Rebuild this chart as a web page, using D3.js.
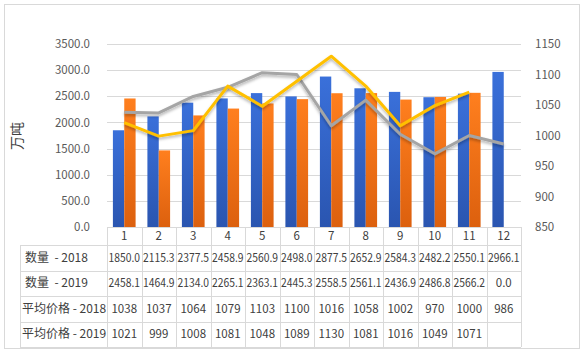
<!DOCTYPE html>
<html>
<head>
<meta charset="utf-8">
<script src="https://cdn.jsdelivr.net/npm/d3@7"></script>
<style>
  body { margin: 0; background: #fff; }
  svg text { font-family: "Noto Sans CJK SC", "Noto Sans", sans-serif; }
</style>
</head>
<body>
<div id="chart"></div>
<script>
// data
var months = ["1","2","3","4","5","6","7","8","9","10","11","12"];
var qty2018 = [1850.0,2115.3,2377.5,2458.9,2560.9,2498.0,2877.5,2652.9,2584.3,2482.2,2550.1,2966.1];
var qty2019 = [2458.1,1464.9,2134.0,2265.1,2363.1,2445.3,2558.5,2561.1,2436.9,2486.8,2566.2,0.0];
var price2018 = [1038,1037,1064,1079,1103,1100,1016,1058,1002,970,1000,986];
var price2019 = [1021,999,1008,1081,1048,1089,1130,1081,1016,1049,1071,null];
var leftTicks = [0,500,1000,1500,2000,2500,3000,3500];
var rightTicks = [850,900,950,1000,1050,1100,1150];

var W = 588, H = 353;
var plot = {left: 107, right: 521, top: 44, bottom: 227};
var tableLeft = 20, rowH = 25.5, headerBottom = 245;

var svg = d3.select("#chart").append("svg")
    .attr("width", W).attr("height", H);

var defs = svg.append("defs");
function grad(id, top, bottom) {
  var g = defs.append("linearGradient").attr("id", id)
      .attr("x1", 0).attr("y1", 0).attr("x2", 0).attr("y2", 1);
  g.append("stop").attr("offset", "0%").attr("stop-color", top);
  g.append("stop").attr("offset", "100%").attr("stop-color", bottom);
}
grad("gBlue", "#3a70da", "#2a55b0");
grad("gOrange", "#ff7f1e", "#dc600e");
var f = defs.append("filter").attr("id", "shadow")
    .attr("x", "-5%").attr("y", "-20%").attr("width", "110%").attr("height", "140%");
f.append("feDropShadow").attr("dx", 0).attr("dy", 2).attr("stdDeviation", 1.4)
    .attr("flood-color", "#000").attr("flood-opacity", 0.3);

// outer frame
svg.append("rect").attr("x", 4.5).attr("y", 4.5).attr("width", 575).attr("height", 344)
    .attr("fill", "none").attr("stroke", "#d9d9d9");

var x = d3.scaleBand().domain(months).range([plot.left, plot.right]).padding(0);
var xs = d3.scaleBand().domain(["2018","2019"]).range([0, x.bandwidth()])
    .paddingInner(0).paddingOuter(0.52);
var y = d3.scaleLinear().domain([0, 3500]).range([plot.bottom, plot.top]);
var y2 = d3.scaleLinear().domain([850, 1150]).range([plot.bottom, plot.top]);

// gridlines
svg.append("g").selectAll("line").data(leftTicks.slice(1)).enter().append("line")
    .attr("x1", plot.left).attr("x2", plot.right)
    .attr("y1", function(d) { return Math.round(y(d)) + 0.5; })
    .attr("y2", function(d) { return Math.round(y(d)) + 0.5; })
    .attr("stroke", "#d9d9d9");

// left axis
var yAxis = svg.append("g").attr("transform", "translate(" + (plot.left - 14) + ",0)")
    .call(d3.axisLeft(y).tickValues(leftTicks).tickFormat(d3.format(".1f")).tickSize(0));
yAxis.select(".domain").remove();
yAxis.selectAll("text").attr("fill", "#595959").attr("font-size", "11.5px");

// right axis
var y2Axis = svg.append("g").attr("transform", "translate(" + (plot.right + 11) + ",0)")
    .call(d3.axisRight(y2).tickValues(rightTicks).tickFormat(d3.format("d")).tickSize(0));
y2Axis.select(".domain").remove();
y2Axis.selectAll("text").attr("fill", "#595959").attr("font-size", "11.5px");

svg.append("text").attr("transform", "translate(22,136) rotate(-90)")
    .attr("text-anchor", "middle").attr("fill", "#404040").attr("font-size", "14px")
    .text("万吨");

// bars
var series = [{key: "2018", vals: qty2018, fill: "url(#gBlue)"},
              {key: "2019", vals: qty2019, fill: "url(#gOrange)"}];
series.forEach(function(s) {
  svg.append("g").selectAll("rect").data(s.vals).enter().append("rect")
      .attr("x", function(d, i) { return x(months[i]) + xs(s.key); })
      .attr("width", xs.bandwidth())
      .attr("y", function(d) { return y(d); })
      .attr("height", function(d) { return y(0) - y(d); })
      .attr("fill", s.fill);
});

// price lines
var line = d3.line()
    .defined(function(d) { return d != null; })
    .x(function(d, i) { return x(months[i]) + x.bandwidth() / 2; })
    .y(function(d) { return y2(d); });
svg.append("path").datum(price2018).attr("d", line)
    .attr("fill", "none").attr("stroke", "#a5a5a5").attr("stroke-width", 3)
    .attr("stroke-linejoin", "round").attr("filter", "url(#shadow)");
svg.append("path").datum(price2019).attr("d", line)
    .attr("fill", "none").attr("stroke", "#ffc000").attr("stroke-width", 3)
    .attr("stroke-linejoin", "round").attr("filter", "url(#shadow)");

// data table
var rows = [
  {label: "数量  - 2018", vals: qty2018, fmt: d3.format(".1f"), fit: true},
  {label: "数量  - 2019", vals: qty2019, fmt: d3.format(".1f"), fit: true},
  {label: "平均价格 - 2018", vals: price2018, fmt: d3.format("d"), fit: false},
  {label: "平均价格 - 2019", vals: price2019, fmt: d3.format("d"), fit: false}
];
var tableBottom = headerBottom + rows.length * rowH;
var t = svg.append("g");
var lineColor = "#d9d9d9";
// horizontal lines
t.append("line").attr("x1", plot.left).attr("x2", plot.right)
    .attr("y1", plot.bottom + 0.5).attr("y2", plot.bottom + 0.5).attr("stroke", lineColor);
d3.range(rows.length + 1).forEach(function(r) {
  var yy = Math.round(headerBottom + r * rowH) + 0.5;
  t.append("line").attr("x1", tableLeft).attr("x2", plot.right)
      .attr("y1", yy).attr("y2", yy).attr("stroke", lineColor);
});
// vertical lines
t.append("line").attr("x1", tableLeft + 0.5).attr("x2", tableLeft + 0.5)
    .attr("y1", headerBottom).attr("y2", tableBottom).attr("stroke", lineColor);
months.concat(["end"]).forEach(function(m, i) {
  var xx = Math.round(plot.left + i * x.bandwidth()) + 0.5;
  t.append("line").attr("x1", xx).attr("x2", xx)
      .attr("y1", plot.bottom).attr("y2", tableBottom).attr("stroke", lineColor);
});
// header
t.selectAll("text.h").data(months).enter().append("text")
    .attr("x", function(d) { return x(d) + x.bandwidth() / 2; })
    .attr("y", plot.bottom + 13)
    .attr("text-anchor", "middle").attr("fill", "#404040").attr("font-size", "11.5px")
    .text(function(d) { return d; });
rows.forEach(function(r, ri) {
  var cy = headerBottom + ri * rowH + rowH / 2 + 4;
  t.append("text").attr("x", ri < 2 ? 25 : 22).attr("y", cy)
      .attr("fill", "#404040").attr("font-size", "12px")
      .style("white-space", "pre")
      .text(r.label);
  var cells = t.selectAll("text.v" + ri).data(r.vals).enter().append("text")
      .attr("x", function(d, i) { return x(months[i]) + x.bandwidth() / 2; })
      .attr("y", cy)
      .attr("text-anchor", "middle").attr("fill", "#404040").attr("font-size", "11.5px")
      .text(function(d) { return d == null ? "" : r.fmt(d); });
  if (r.fit) {
    cells.filter(function(d) { return d >= 1000; })
        .attr("textLength", 31.5).attr("lengthAdjust", "spacingAndGlyphs");
  }
});
</script>
</body>
</html>
